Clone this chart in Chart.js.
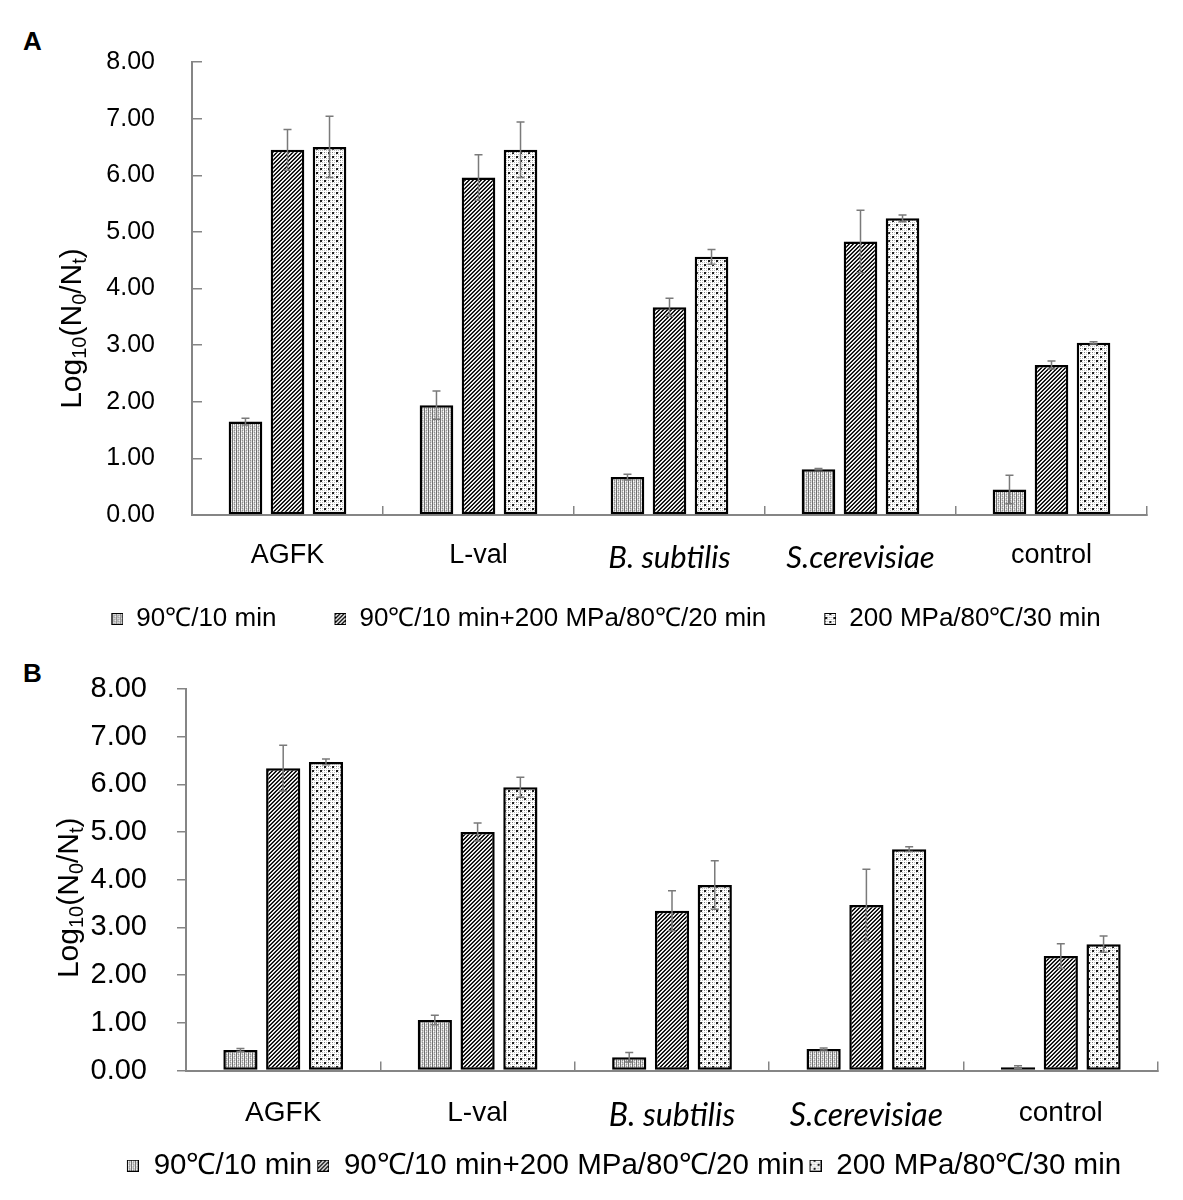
<!DOCTYPE html>
<html>
<head>
<meta charset="utf-8">
<script src="https://cdn.jsdelivr.net/npm/chart.js@4.4.1/dist/chart.umd.min.js"></script>
<style>
  body { margin: 0; background: #fff; }
  .panel { position: absolute; left: 0; width: 1183px; }
  .tag { position: absolute; left: 23px; font: bold 26px "Liberation Sans", Arial, sans-serif; color: #000; }
</style>
</head>
<body>
<div class="tag" style="top:26px">A</div>
<div class="panel" style="top:0;height:650px"><canvas id="chartA"></canvas></div>
<div class="tag" style="top:658px">B</div>
<div class="panel" style="top:650px;height:550px"><canvas id="chartB"></canvas></div>
<script>
const categories = ["AGFK", "L-val", "B. subtilis", "S.cerevisiae", "control"];
const seriesNames = ["90℃/10 min", "90℃/10 min+200 MPa/80℃/20 min", "200 MPa/80℃/30 min"];
const yTicks = [0, 1, 2, 3, 4, 5, 6, 7, 8];

// panel A
const aHeat = [1.65, 1.94, 0.67, 0.81, 0.45];
const aHeatErr = [0.06, 0.25, 0.05, 0.01, 0.25];
const aCombo = [6.45, 5.96, 3.67, 4.83, 2.65];
const aComboErr = [0.36, 0.40, 0.16, 0.55, 0.07];
const aHpp = [6.50, 6.45, 4.56, 5.24, 3.04];
const aHppErr = [0.54, 0.49, 0.13, 0.06, 0.02];

// panel B
const bHeat = [0.43, 1.06, 0.28, 0.45, 0.07];
const bHeatErr = [0.03, 0.10, 0.10, 0.02, 0.03];
const bCombo = [6.34, 5.00, 3.35, 3.47, 2.40];
const bComboErr = [0.48, 0.19, 0.42, 0.75, 0.26];
const bHpp = [6.47, 5.94, 3.89, 4.64, 2.65];
const bHppErr = [0.06, 0.21, 0.51, 0.05, 0.17];

const AXIS = "#858585";
const SANS = "'Liberation Sans', Arial, sans-serif";

function makeTile(size, paint) {
  const c = document.createElement("canvas");
  c.width = size;
  c.height = size;
  const g = c.getContext("2d");
  g.fillStyle = "#fff";
  g.fillRect(0, 0, size, size);
  paint(g);
  return c;
}

// fine grey vertical stipple
const tileHeat = makeTile(4, (g) => {
  g.fillStyle = "#dcdcdc";
  g.fillRect(0, 0, 4, 4);
  g.fillStyle = "#6f6f6f";
  g.fillRect(0, 0, 1, 4);
  g.fillStyle = "#8f8f8f";
  g.fillRect(2, 0, 1, 1);
  g.fillRect(2, 2, 1, 1);
  g.fillStyle = "#bdbdbd";
  g.fillRect(2, 1, 1, 1);
  g.fillRect(2, 3, 1, 1);
  g.fillStyle = "#fff";
  g.fillRect(1, 1, 1, 1);
  g.fillRect(3, 3, 1, 1);
});

// dense "/" hatch
const tileCombo = makeTile(4, (g) => {
  for (let x = 0; x < 4; x++) {
    for (let y = 0; y < 4; y++) {
      g.fillStyle = ["#000", "#333", "#fff", "#d0d0d0"][(x + y) % 4];
      g.fillRect(x, y, 1, 1);
    }
  }
});

// light grey dots with sparse dark dots
const tileHpp = makeTile(8, (g) => {
  g.fillStyle = "#bcbcbc";
  for (let x = 0; x < 8; x += 2) {
    for (let y = 0; y < 8; y += 2) g.fillRect(x, y, 1, 1);
  }
  g.fillStyle = "#1a1a1a";
  g.fillRect(0, 0, 2, 2);
  g.fillRect(4, 4, 2, 2);
  g.fillStyle = "#808080";
  g.fillRect(4, 0, 1, 1);
  g.fillRect(0, 4, 1, 1);
});

const tiles = [tileHeat, tileCombo, tileHpp];
const patCtx = document.createElement("canvas").getContext("2d");
const patterns = tiles.map((t) => patCtx.createPattern(t, "repeat"));

// legend icon: blank lead-in (extra room between items) then the 12px box
function makeIcon(tile, lead) {
  const c = document.createElement("canvas");
  c.width = lead + 12;
  c.height = 12;
  const g = c.getContext("2d");
  g.fillStyle = g.createPattern(tile, "repeat");
  g.fillRect(lead, 0, 12, 12);
  g.strokeStyle = "#000";
  g.lineWidth = 1;
  g.strokeRect(lead + 0.5, 0.5, 11, 11);
  return c;
}

const errorBars = {
  id: "errorBars",
  afterDatasetsDraw(chart) {
    const { ctx } = chart;
    const y = chart.scales.y;
    ctx.save();
    ctx.strokeStyle = "#7a7a7a";
    ctx.lineWidth = 1.5;
    chart.data.datasets.forEach((ds, i) => {
      chart.getDatasetMeta(i).data.forEach((bar, j) => {
        const v = ds.data[j];
        const e = ds.err[j];
        const top = y.getPixelForValue(v + e);
        const bot = y.getPixelForValue(Math.max(v - e, 0));
        ctx.beginPath();
        ctx.moveTo(bar.x, top);
        ctx.lineTo(bar.x, bot);
        ctx.moveTo(bar.x - 4, top);
        ctx.lineTo(bar.x + 4, top);
        ctx.moveTo(bar.x - 4, bot);
        ctx.lineTo(bar.x + 4, bot);
        ctx.stroke();
      });
    });
    ctx.restore();
  },
};

// rotated y title with subscripts: Log10(N0/Nt)
const yTitle = {
  id: "yTitle",
  afterDraw(chart, args, opts) {
    const { ctx, chartArea } = chart;
    const parts = [["Log", 0], ["10", 1], ["(N", 0], ["0", 1], ["/N", 0], ["t", 1], [")", 0]];
    const big = "30px " + SANS;
    const small = "20px " + SANS;
    ctx.save();
    let total = 0;
    parts.forEach(([t, sub]) => {
      ctx.font = sub ? small : big;
      total += ctx.measureText(t).width;
    });
    ctx.translate(opts.x, (chartArea.top + chartArea.bottom) / 2 + opts.dy);
    ctx.rotate(-Math.PI / 2);
    ctx.fillStyle = "#000";
    ctx.textBaseline = "alphabetic";
    let cx = -total / 2;
    parts.forEach(([t, sub]) => {
      ctx.font = sub ? small : big;
      ctx.fillText(t, cx, sub ? 16 : 11);
      cx += ctx.measureText(t).width;
    });
    ctx.restore();
  },
};

function buildChart(id, cfg) {
  const datasets = cfg.values.map((vals, i) => ({
    label: seriesNames[i],
    data: vals,
    err: cfg.errors[i],
    backgroundColor: patterns[i],
    borderColor: "#000",
    borderWidth: 2.5,
    borderSkipped: false,
    categoryPercentage: 0.66,
    barPercentage: 0.8,
  }));
  const icons = tiles.map((t) => makeIcon(t, cfg.legendLead));

  return new Chart(document.getElementById(id), {
    type: "bar",
    data: { labels: categories, datasets },
    options: {
      responsive: true,
      maintainAspectRatio: false,
      animation: false,
      layout: { padding: cfg.padding },
      scales: {
        x: {
          afterFit: (s) => { s.height = cfg.xHeight; },
          border: { color: AXIS, width: 2 },
          grid: {
            offset: true,
            drawOnChartArea: false,
            tickLength: -9,
            lineWidth: 1.5,
            color: (c) => (c.index === categories.length ? "rgba(0,0,0,0)" : AXIS),
          },
          ticks: {
            color: "#000",
            padding: cfg.xPad,
            font: (c) => (c.index === 2 || c.index === 3
              ? { family: "Lato, 'Open Sans', sans-serif", style: "italic", size: cfg.xFont + 4 }
              : { family: SANS, size: cfg.xFont }),
          },
        },
        y: {
          min: 0,
          max: 8,
          afterFit: (s) => {
            s.width = cfg.yWidth;
            s.paddingTop = 0;
            s.paddingBottom = 0;
          },
          afterBuildTicks: (s) => { s.ticks = yTicks.map((v) => ({ value: v })); },
          border: { color: AXIS, width: 2 },
          grid: {
            drawOnChartArea: false,
            tickLength: cfg.yTick,
            lineWidth: 1.5,
            color: AXIS,
          },
          ticks: {
            color: "#000",
            padding: cfg.yPad,
            font: { family: SANS, size: cfg.yFont },
            callback: (v) => v.toFixed(2),
          },
        },
      },
      plugins: {
        tooltip: { enabled: false },
        legend: {
          position: "bottom",
          labels: {
            color: "#000",
            font: { family: SANS, size: cfg.legendFont },
            usePointStyle: true,
            pointStyleWidth: cfg.legendLead + 12,
            boxHeight: 12,
            padding: cfg.legendPad,
            generateLabels: (chart) =>
              Chart.defaults.plugins.legend.labels.generateLabels(chart).map((l, i) => ({ ...l, pointStyle: icons[i] })),
          },
        },
        yTitle: cfg.title,
      },
    },
    plugins: [errorBars, yTitle],
  });
}

buildChart("chartA", {
  values: [aHeat, aCombo, aHpp],
  errors: [aHeatErr, aComboErr, aHppErr],
  padding: { top: 62, left: 38, right: 36, bottom: 8 },
  xHeight: 60,
  xPad: 33,
  xFont: 27,
  yWidth: 154,
  yTick: -10,
  yPad: 47,
  yFont: 25,
  legendFont: 26,
  legendPad: 31,
  legendLead: 27,
  title: { x: 70, dy: 40 },
});

buildChart("chartB", {
  values: [bHeat, bCombo, bHpp],
  errors: [bHeatErr, bComboErr, bHppErr],
  padding: { top: 39, left: 86, right: 25, bottom: 9.5 },
  xHeight: 79.5,
  xPad: 35,
  xFont: 28,
  yWidth: 100,
  yTick: 9,
  yPad: 30,
  yFont: 29,
  legendFont: 29.5,
  legendPad: 1,
  legendLead: 4,
  title: { x: 67, dy: 18 },
});
</script>
</body>
</html>
